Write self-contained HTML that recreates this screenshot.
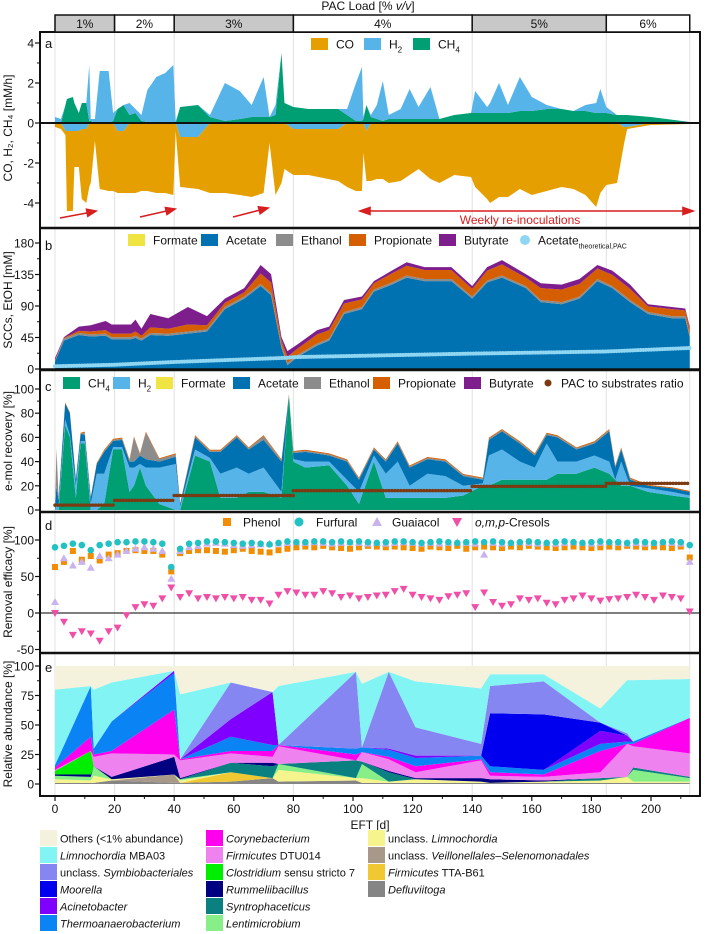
<!DOCTYPE html>
<html><head><meta charset="utf-8"><style>
body{margin:0;background:#fff}
svg{display:block;font-family:"Liberation Sans",sans-serif}
</style></head><body>
<svg id="chart" width="708" height="934" viewBox="0 0 708 934" xmlns="http://www.w3.org/2000/svg"></svg>
<script>
// ---------- DATA ----------
// panel a
const aDays=[0,2,3.5,4,6,6.5,8,9,10.5,11.5,12,13.4,15,18,19.5,21,23,25,27,29,31,34,37,39.7,40.5,42,48,52,57,62,66,70,72,74,76,77,80,85,95,98,101,103,103.5,104.5,106,108,110,112,116,119,122,126,129,134,139.6,141,145,146,149,152,156,160,165,170,174,178,181.6,183,185,188.6,191,192,200,213];
const aCH4=[0,0,0.9,1.2,1.3,1.0,0.5,1.0,1.0,0.1,0.1,0,0,0,0.1,0.7,0.9,0.4,0.5,0.1,0.05,0,0,0,0,0.8,0.9,0.3,0.1,0.2,0.3,0.3,0.3,0.4,3.5,1.0,0.8,0.7,0.7,0.4,0.1,0.1,0.2,0.9,0.3,0.2,0.1,0.2,0.2,0.2,0.2,0.2,0.2,0.4,0.5,0.5,0.5,0.5,0.5,0.5,0.6,0.6,0.7,0.7,0.6,0.6,0.5,0.5,0.5,0.4,0.4,0.4,0.3,0.05];
const aH2=[0.3,0.2,-0.4,-0.4,-0.4,-0.4,-0.4,-0.3,-0.3,2.8,0.1,0.2,2.6,2.6,0.4,-0.4,-0.4,0.6,0.2,0.3,1.6,2.3,2.5,2.9,0.1,-0.7,-0.7,0.1,1.9,1.4,0.6,2.0,0,0.5,0,0,-0.3,-0.3,-0.3,0.3,1.9,2.7,0.1,-0.4,0.1,0.7,2.0,0.2,0.5,1.5,0.6,1.6,0,0,0,1.1,0.3,0.5,1.5,0.4,1.7,0.7,0.2,0,0,0.3,0.5,1.2,0.3,0,-0.2,-0.2,0,0];
const aCO=[-0.2,-0.3,-0.2,-4.0,-4.0,-1.8,-1.8,-3.5,-3.7,-3.2,-3.0,-0.9,-3.3,-3.4,-3.4,-3.1,-3.1,-3.5,-3.5,-3.4,-3.4,-3.5,-3.5,-3.6,-0.4,-2.5,-2.6,-3.5,-3.5,-3.6,-3.7,-3.5,-1.0,-3.6,-3.0,-2.3,-2.3,-2.3,-2.6,-3.2,-3.4,-3.4,-1.5,-2.5,-2.9,-2.8,-2.8,-3.0,-2.9,-2.6,-2.3,-2.8,-3.0,-2.6,-2.7,-3.2,-3.8,-4.0,-3.7,-3.7,-3.3,-3.6,-3.4,-3.2,-3.3,-3.6,-4.2,-3.5,-3.1,-3.0,-0.8,-0.1,-0.1,-0.05];
const aTicks=[4,2,0,-2,-4];
// panel b
const bDays=[0,3,8,12,17,19,25.5,27,29,32,38,44.6,51,57,63.5,69,72.5,76,78,81.5,88,92,97,103,107,113,118,124,133,140,145,150,158,163,170,176,182,187,193,199,207,211.5,213];
const bFormate=[0.5,0.5,0.5,0.5,0.5,0.5,0.5,0.5,0.5,0.5,0.5,0.5,0.5,0.5,0.5,0.5,0.5,0.5,0.5,0.5,0.5,0.5,0.5,0.5,0.5,0.5,0.5,0.5,0.5,0.5,0.5,0.5,0.5,0.5,0.5,0.5,0.5,0.5,0.5,0.5,0.5,0.5,0.5];
const bAcetate=[10,40,48,46,47,42,42,44,40,48,47,50,53,85,100,118,105,30,5,17,33,40,78,85,110,120,130,125,125,100,123,130,115,95,92,100,125,115,95,78,72,72,45];
const bEthanol=[1,3,3,3,3,3,3,3,3,3,3,3,3,3,3,3,3,3,3,3,3,3,3,3,3,3,3,3,3,3,3,3,3,3,3,3,3,3,3,3,3,3,3];
const bPropionate=[1,1,3,4,5,5,5,6,4,8,7,10,6,6,6,15,15,7,9,9,13,12,12,11,9,13,14,13,13,11,14,16,12,17,18,18,15,16,16,8,10,8,9];
const bButyrate=[3,1,6,9,13,13,13,17,10,19,15,25,13,6,6,12,12,5,8,6,6,5,5,4,3,4,5,4,4,4,5,6,5,7,7,7,5,6,6,3,3,3,3];
const bTheoDays=[0,20,40,78,80,140,185,213];
const bTheoVals=[4,6,10,16,17,22,25,30];
const bTicks=[0,45,90,135,180];
// panel c (cumulative tops)
const cDays=[0,0.5,1.2,3.4,5,7,8.6,10,12,14,16.5,19.5,22.5,25,26.5,28.5,30.5,35,40.5,42,47,52,55.5,61,65,70,76,78.5,80,84,92,98,102,107,111,115,119,125,131,137,143.6,145.6,150,156,161,165,168.6,175,181,186,188,190,193,199,207,213];
const cCH4Top=[0,0,0,70,60,10,55,55,0,0,5,50,50,15,20,35,20,5,0,0,45,40,10,10,15,15,10,95,40,35,37,20,5,40,10,10,10,10,10,12,20,20,25,25,25,25,30,30,35,30,25,20,20,15,12,10];
const cH2Top=[0,5,3,75,62,20,57,57,5,30,30,52,52,35,35,38,35,35,38,3,50,43,30,35,30,35,15,95,42,40,40,25,15,45,30,40,20,30,28,20,22,45,50,40,35,55,40,40,45,40,25,40,20,18,15,12];
const cAcetateTop=[2,20,8,88,80,25,63,62,10,38,48,57,58,40,40,45,42,40,44,5,60,48,48,60,50,58,40,95,47,48,45,40,25,50,40,55,35,42,40,28,25,58,65,55,45,62,60,50,55,65,35,50,25,20,18,15];
const cEthanol=[0,30,2,0,0,0,0,2,0,0,1,1,1,1,20,1,22,2,2,0,1,1,1,1,1,3,1,0,1,1,1,1,1,1,1,1,1,1,1,1,1,1,1,1,1,1,1,1,1,1,1,1,1,0,0,0];
const pacStart=[0,20,40,80,140,185];
const pacEnd=[20,40,80,140,185,213];
const pacVal=[4,8,12,16,19.5,22];
const cTicks=[0,20,40,60,80,100];
// panel d
const dDays=[];for(let i=0;i<72;i++)dDays.push(i*3);
const dFurfural=[90,92,95,93,86,93,95,97,97,98,98,97,95,63,88,95,96,98,98,97,96,95,96,95,94,96,98,97,97,98,98,97,98,97,98,97,96,97,98,98,97,96,97,98,97,96,97,98,97,98,97,96,97,98,97,96,97,98,97,96,97,98,97,97,96,98,97,96,97,98,97,93];
const dPhenol=[63,70,85,73,78,72,80,82,85,86,85,85,80,57,82,85,86,86,85,84,86,88,85,84,83,86,88,90,91,90,92,90,89,88,90,92,91,90,91,90,89,88,91,90,89,92,88,90,91,90,89,91,90,92,91,90,89,90,91,90,89,90,91,90,92,91,90,91,90,89,91,76];
const dGuaiacol=[15,75,65,70,62,78,75,80,85,88,90,88,85,47,85,90,92,95,96,95,93,92,93,94,95,95,96,97,96,97,96,95,96,97,96,95,96,95,96,97,96,95,96,95,96,97,96,95,80,96,95,96,97,96,95,96,95,96,97,96,95,96,97,96,95,96,95,96,97,96,95,70];
const dCresols=[0,-12,-30,-25,-28,-38,-25,-20,-3,8,12,10,20,35,22,27,20,22,20,22,20,22,18,18,13,25,30,28,25,25,30,27,22,24,20,22,24,25,30,33,25,22,20,18,23,25,27,8,28,15,10,12,20,18,20,14,12,18,20,24,20,17,19,20,22,25,22,18,24,22,20,2];
const dTicks=[-50,0,50,100];
// panel e (layer thickness, %)
const eDays=[0,12,13,19,40,42,59,73,75,101,103,112,121,143,146,164,183,192,194,213];
const eDefluviitoga=[1,1,1,3,1,1,2,5,2,3,1,1,1,1,1,1,1,1,1,1];
const eTTAB61=[0,0,0,0,0,0,8,0,0,0,0,0,0,0,0,0,0,0,0,0];
const eVeillonellales=[0,0,0,0,7,0,0,0,0,0,0,0,0,0,0,0,0,0,0,0];
const eLimnoUncl=[3,2,6,1,0,2,0,0,10,2,4,1,3,1,0,1,2,5,1,1];
const eLentimicrobium=[3,3,8,0,0,1,0,0,5,0,12,0,0,0,0,0,0,0,10,3];
const eSyntrophaceticus=[0,0,0,0,0,0,8,10,0,15,2,8,0,0,0,0,2,0,2,1];
const eRummeliibacillus=[1,2,0,2,15,1,0,3,0,0,0,1,1,3,3,1,0,0,0,0];
const eClostridium=[3,20,0,0,0,0,0,0,0,0,0,0,0,0,0,0,0,0,0,0];
const eDTU014=[1,0,8,20,2,15,8,5,15,0,8,10,5,15,3,3,5,28,18,20];
const eCorynebacterium=[2,12,2,2,38,1,2,5,1,5,0,2,5,1,3,2,18,0,2,30];
const eThermoanaerobacterium=[2,43,5,25,31,0,12,5,0,5,4,6,7,3,5,4,6,2,2,0];
const eAcinetobacter=[0,0,0,0,2,0,15,45,0,0,0,1,2,0,0,0,11,5,0,0];
const eMoorella=[0,0,0,0,0,0,0,0,0,0,0,0,0,0,45,47,7,0,0,0];
const eSymbiobacteriales=[0,0,0,0,0,0,31,0,0,65,0,65,24,10,23,28,0,2,0,0];
const eMBA03=[64,0,50,33,0,55,0,0,50,0,54,0,39,47,10,6,12,45,52,33];
const eTicks=[0,25,50,75,100];
const xTicks=[0,20,40,60,80,100,120,140,160,180,200];
const pacLabels=["1%","2%","3%","4%","5%","6%"];

// ---------- SCALES ----------
const X=d=>55+d*2.98;
const ya=v=>123-v*20, yb=v=>369-v*0.7, yc=v=>510-v*1.21, yd=v=>613-v*0.73, ye=v=>784-v*1.18;
const FS=12;
const svg=document.getElementById('chart');
const NS="http://www.w3.org/2000/svg";
function mk(tag,attrs,parent){const e=document.createElementNS(NS,tag);for(const k in attrs)e.setAttribute(k,attrs[k]);(parent||svg).appendChild(e);return e;}
function txt(x,y,s,size,anchor,parent){const t=mk('text',{x:x,y:y,'font-size':size||FS,'text-anchor':anchor||'start',fill:'#111'},parent);t.textContent=s;return t;}
function band(days,lo,hi,y,color,name){
  let p=days.map((d,i)=>X(d)+','+y(hi[i])).join(' ')+' '+days.map((d,i)=>X(d)+','+y(lo[i])).reverse().join(' ');
  const e=mk('polygon',{points:p,fill:color});
  
  
}

// gridlines
[0,20,40,80,140,185,213].forEach(d=>{const l=mk('line',{x1:X(d),x2:X(d),y1:32,y2:796,stroke:'#e2e2e2','stroke-width':1});

});

// ---------- PANEL A ----------
{const z=aDays.map(()=>0);
const ch=aCH4;const hp=aH2.map((h,i)=>ch[i]+Math.max(h,0));
band(aDays,z,ch,ya,'#009e73','ch4-area');
band(aDays,ch,hp,ya,'#56b4e9','h2-area');
const hn=aH2.map(h=>Math.min(h,0));const co=aCO.map((c,i)=>hn[i]+c);
band(aDays,hn,z,ya,'#56b4e9','h2-negative-area');
band(aDays,co,hn,ya,'#e69f00','co-area');}

// ---------- PANEL B ----------
{let cum=bDays.map(()=>0);
[[bFormate,'#f0e442','formate-area'],[bAcetate,'#0072b2','acetate-area'],[bEthanol,'#8c8c8c','ethanol-area'],[bPropionate,'#d55e00','propionate-area'],[bButyrate,'#7e1e8c','butyrate-area']].forEach(([arr,c,n])=>{
const nxt=cum.map((v,i)=>v+arr[i]);band(bDays,cum,nxt,yb,c,n);cum=nxt;});
const pl=mk('polyline',{points:bTheoDays.map((d,i)=>X(d)+','+yb(bTheoVals[i])).join(' '),fill:'none',stroke:'#8fd6f2','stroke-width':4,'stroke-linecap':'round','stroke-dasharray':'0.1 2.6'});

}

// ---------- PANEL C ----------
{const z=cDays.map(()=>0);
const a=cAcetateTop.map((v,i)=>Math.max(v,cH2Top[i]));
const e=a.map((v,i)=>v+cEthanol[i]);const p=e.map(v=>v+0.8);
band(cDays,z,cCH4Top,yc,'#009e73','ch4-recovery-area');
band(cDays,cCH4Top,cH2Top,yc,'#56b4e9','h2-recovery-area');
band(cDays,cH2Top,a,yc,'#0072b2','acetate-recovery-area');
band(cDays,a,e,yc,'#8c8c8c','ethanol-recovery-area');
band(cDays,e,p,yc,'#d55e00','propionate-recovery-area');
pacStart.forEach((s,i)=>{const l=mk('line',{x1:X(s),x2:X(pacEnd[i]),y1:yc(pacVal[i]),y2:yc(pacVal[i]),stroke:'#7b3a12','stroke-width':3.5,'stroke-linecap':'round','stroke-dasharray':'0.1 2.8'});

});}

// ---------- PANEL D ----------
mk('line',{x1:40,x2:700,y1:yd(0),y2:yd(0),stroke:'#333','stroke-width':1.2});
dDays.forEach((d,i)=>{const x=X(d);
let r=mk('rect',{x:x-3,y:yd(dPhenol[i])-3,width:6,height:6,fill:'#f28c00'});


let tg=mk('polygon',{points:`${x},${yd(dGuaiacol[i])-4} ${x-4},${yd(dGuaiacol[i])+3} ${x+4},${yd(dGuaiacol[i])+3}`,fill:'#c9b3ef'});


let c=mk('circle',{cx:x,cy:yd(dFurfural[i]),r:3.3,fill:'#22c2c4'});


let tc=mk('polygon',{points:`${x-4},${yd(dCresols[i])-3} ${x+4},${yd(dCresols[i])-3} ${x},${yd(dCresols[i])+4}`,fill:'#f04fa8'});

});

// ---------- PANEL E ----------
{const layers=[[eDefluviitoga,'#858585','defluviitoga-area'],[eTTAB61,'#f0c832','tta-b61-area'],[eVeillonellales,'#a8988a','veillonellales-area'],[eLimnoUncl,'#f6f48c','limnochordia-unclass-area'],[eLentimicrobium,'#88ee88','lentimicrobium-area'],[eSyntrophaceticus,'#0a8080','syntrophaceticus-area'],[eRummeliibacillus,'#000080','rummeliibacillus-area'],[eClostridium,'#00ee00','clostridium-area'],[eDTU014,'#ee82ee','dtu014-area'],[eCorynebacterium,'#ff00ee','corynebacterium-area'],[eThermoanaerobacterium,'#0a84f5','thermoanaerobacterium-area'],[eAcinetobacter,'#8000ff','acinetobacter-area'],[eMoorella,'#0000ee','moorella-area'],[eSymbiobacteriales,'#8686f2','symbiobacteriales-area'],[eMBA03,'#82f4f4','mba03-area']];
let cum=eDays.map(()=>0);
layers.forEach(([arr,c,n])=>{const nxt=cum.map((v,i)=>v+arr[i]);band(eDays,cum,nxt,ye,c,n);cum=nxt;});
band(eDays,cum,eDays.map(()=>100),ye,'#f4f2dc','others-area');}

// ---------- FRAME / AXES ----------
const fr=mk('rect',{x:40,y:32,width:660,height:764,fill:'none',stroke:'#111','stroke-width':2});


[228,370,512,653].forEach(y=>{const l=mk('line',{x1:40,x2:700,y1:y,y2:y,stroke:'#111','stroke-width':2.5});

});
mk('line',{x1:40,x2:700,y1:ya(0),y2:ya(0),stroke:'#111','stroke-width':2});
mk('line',{x1:40,x2:700,y1:yb(0),y2:yb(0),stroke:'#111','stroke-width':1.5});
function yaxis(ticks,y){ticks.forEach(t=>{mk('line',{x1:35,x2:40,y1:y(t),y2:y(t),stroke:'#111','stroke-width':1.2});
const l=txt(34,y(t)+4.5,String(t),FS,'end');

});
for(let i=0;i<ticks.length-1;i++){const m=(ticks[i]+ticks[i+1])/2;mk('line',{x1:37,x2:40,y1:y(m),y2:y(m),stroke:'#111'});}}
yaxis(aTicks,ya);yaxis(bTicks,yb);yaxis(cTicks,yc);yaxis(dTicks,yd);yaxis(eTicks,ye);
xTicks.forEach(t=>{mk('line',{x1:X(t),x2:X(t),y1:796,y2:801,stroke:'#111','stroke-width':1.2});
mk('line',{x1:X(t+10),x2:X(t+10),y1:796,y2:799,stroke:'#111'});
const l=txt(X(t),813,String(t),FS,'middle');

});
{const l=txt(370,829,'EFT [d]',FS,'middle');}

// y titles
[['CO, H₂, CH₄ [mM/h]',128,'y-axis-title-a'],['SCCs, EtOH [mM]',300,'y-axis-title-b'],['e-mol recovery [%]',441,'y-axis-title-c'],['Removal efficacy [%]',582,'y-axis-title-d'],['Relative abundance [%]',724,'y-axis-title-e']].forEach(([s,y,n])=>{
const t=txt(0,0,s,FS,'middle');t.setAttribute('transform',`translate(12,${y}) rotate(-90)`);

});
[['a',48],['b',250],['c',391],['d',530],['e',672]].forEach(([s,y])=>{const t=txt(45,y,s,13);

});

// header PAC load
{const t=txt(368,10,'',FS,'middle');t.innerHTML='PAC Load [% <tspan font-style="italic">v/v</tspan>]';

}
pacStart.forEach((s,i)=>{const r=mk('rect',{x:X(s),y:15,width:X(pacEnd[i])-X(s),height:17,fill:i%2===0?'#c8c8c8':'#fff',stroke:'#111','stroke-width':1.5});


txt((X(s)+X(pacEnd[i]))/2,28,pacLabels[i],FS,'middle');});

// arrows panel a
{const g=mk('g',{stroke:'#d81e1e','stroke-width':1.6,fill:'#d81e1e'});


[[60,218,96,211],[140,217,175,209],[233,217,268,208]].forEach(([x1,y1,x2,y2])=>{mk('line',{x1,y1,x2:x2-4,y2:y2+1},g);
const a=Math.atan2(y2-y1,x2-x1),L=9,W=3.5;mk('polygon',{points:`${x2},${y2} ${x2-L*Math.cos(a)+W*Math.sin(a)},${y2-L*Math.sin(a)-W*Math.cos(a)} ${x2-L*Math.cos(a)-W*Math.sin(a)},${y2-L*Math.sin(a)+W*Math.cos(a)}`},g);});
mk('line',{x1:366,x2:686,y1:211,y2:211},g);
mk('polygon',{points:'360,211 370,207.5 370,214.5'},g);mk('polygon',{points:'693,211 683,207.5 683,214.5'},g);
const t=txt(520,224,'Weekly re-inoculations',FS,'middle');t.setAttribute('fill','#d81e1e');t.setAttribute('stroke','none');}

// legends
function legBox(x,y,c,label,name,isHTML){const r=mk('rect',{x:x,y:y-6,width:17,height:12,fill:c});


const t=txt(x+25,y+4.5,'',FS);if(isHTML)t.innerHTML=label;else t.textContent=label;}
legBox(311,44,'#e69f00','CO','legend-co');
legBox(364,44,'#56b4e9','H<tspan font-size="8" dy="4">2</tspan>','legend-h2',true);
legBox(413,44,'#009e73','CH<tspan font-size="8" dy="4">4</tspan>','legend-ch4',true);
const by=240;
legBox(128,by,'#f0e442','Formate','legend-formate');legBox(201,by,'#0072b2','Acetate','legend-acetate');
legBox(276,by,'#8c8c8c','Ethanol','legend-ethanol');legBox(349,by,'#d55e00','Propionate','legend-propionate');
legBox(439,by,'#7e1e8c','Butyrate','legend-butyrate');
{const c=mk('circle',{cx:525,cy:by,r:5,fill:'#8fd6f2'});
const t=txt(538,by+4.5,'',FS);t.innerHTML='Acetate<tspan font-size="7" dy="4">theoretical,PAC</tspan>';}
const cy=383;
legBox(63,cy,'#009e73','CH<tspan font-size="8" dy="4">4</tspan>','legend-c-ch4',true);
legBox(113,cy,'#56b4e9','H<tspan font-size="8" dy="4">2</tspan>','legend-c-h2',true);
legBox(156,cy,'#f0e442','Formate','legend-c-formate');legBox(233,cy,'#0072b2','Acetate','legend-c-acetate');
legBox(304,cy,'#8c8c8c','Ethanol','legend-c-ethanol');legBox(373,cy,'#d55e00','Propionate','legend-c-propionate');
legBox(464,cy,'#7e1e8c','Butyrate','legend-c-butyrate');
{const c=mk('circle',{cx:548,cy:cy,r:3.5,fill:'#7b3a12'});
txt(561,cy+4.5,'PAC to substrates ratio',FS);}
const dy=522;
{let r=mk('rect',{x:223,y:dy-4,width:8,height:8,fill:'#f28c00'});txt(243,dy+4.5,'Phenol',FS);
let c=mk('circle',{cx:299,cy:dy,r:4.5,fill:'#22c2c4'});txt(316,dy+4.5,'Furfural',FS);
let g=mk('polygon',{points:`377,${dy-5} 372,${dy+4} 382,${dy+4}`,fill:'#c9b3ef'});txt(392,dy+4.5,'Guaiacol',FS);
let k=mk('polygon',{points:`452,${dy-4} 462,${dy-4} 457,${dy+5}`,fill:'#f04fa8'});
const t=txt(475,dy+4.5,'',FS);t.innerHTML='<tspan font-style="italic">o,m,p</tspan>-Cresols';}

// taxa legend
const taxa=[
[40,'#f4f2dc','Others (&lt;1% abundance)'],[40,'#82f4f4','<tspan font-style="italic">Limnochordia</tspan> MBA03'],[40,'#8686f2','unclass. <tspan font-style="italic">Symbiobacteriales</tspan>'],[40,'#0000ee','<tspan font-style="italic">Moorella</tspan>'],[40,'#8000ff','<tspan font-style="italic">Acinetobacter</tspan>'],[40,'#0a84f5','<tspan font-style="italic">Thermoanaerobacterium</tspan>'],
[206,'#ff00ee','<tspan font-style="italic">Corynebacterium</tspan>'],[206,'#ee82ee','<tspan font-style="italic">Firmicutes</tspan> DTU014'],[206,'#00ee00','<tspan font-style="italic">Clostridium</tspan> sensu stricto 7'],[206,'#000080','<tspan font-style="italic">Rummeliibacillus</tspan>'],[206,'#0a8080','<tspan font-style="italic">Syntrophaceticus</tspan>'],[206,'#88ee88','<tspan font-style="italic">Lentimicrobium</tspan>'],
[368,'#f6f48c','unclass. <tspan font-style="italic">Limnochordia</tspan>'],[368,'#a8988a','unclass. <tspan font-style="italic">Veillonellales–Selenomonadales</tspan>'],[368,'#f0c832','<tspan font-style="italic">Firmicutes</tspan> TTA-B61'],[368,'#858585','<tspan font-style="italic">Defluviitoga</tspan>']];
const rowCounts={40:0,206:0,368:0};
taxa.forEach(([x,c,label])=>{const i=rowCounts[x]++;const y=838+i*17;
const r=mk('rect',{x:x,y:y-8,width:17,height:16,fill:c});


const t=txt(x+20,y+4.5,'',11);t.innerHTML=label;

});
</script>
</body></html>
